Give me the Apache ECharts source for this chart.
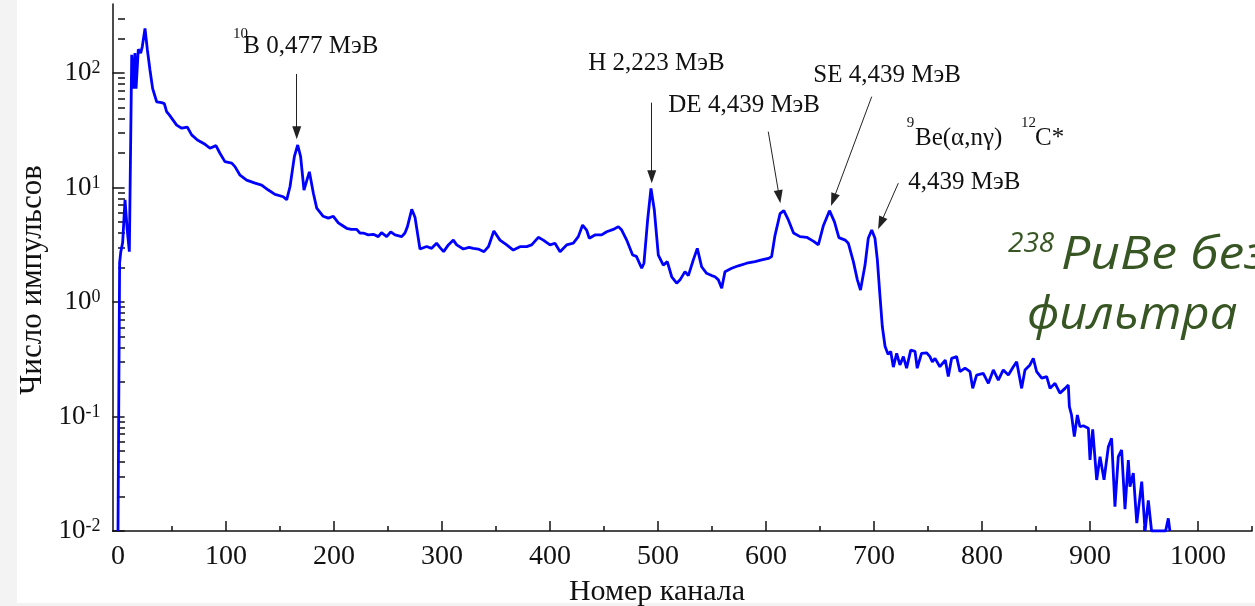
<!DOCTYPE html>
<html><head><meta charset="utf-8">
<script src="https://cdn.jsdelivr.net/npm/echarts@6/dist/echarts.min.js"></script>
<style>html,body{margin:0;padding:0;background:#fff}#c{width:1255px;height:606px}</style>
</head><body><div id="c"></div>
<script>
// Channel numbers (x) and counts (y)
const channels = [0,1.5,2.5,4.3,6.5,8.5,10.5,12.7,14.2,15.7,16.7,18.8,21,22.5,25,27.2,29.6,32.1,35.8,40.4,42.9,45,47.5,54.3,59,64.2,68.2,73.5,80.6,85.2,90.7,94.4,99,105.3,108.3,113,119.1,126.9,133,139.2,145.4,153,156.2,159.3,163.3,166.4,169.1,172.2,177.2,180.9,184,190,194.7,199.4,204,207,211.7,216,221,224,227,231.8,236.4,241,244,248.8,252.5,256.5,262.7,265.7,268,272,275,279.6,285.8,290.4,295,298,301.5,305.9,310.5,313.6,319.7,325,329,333.6,338.9,343,348,353.7,359.9,366,372.2,378.4,383,389.2,393.8,400,404.6,409.3,415.4,421.6,426.2,430.2,433.9,436.4,441.6,447.8,452.5,458.6,463.3,466.4,471,476.5,480,484.9,487,490.4,493.5,496.6,500.3,504.9,508.6,512.7,517.3,520.4,525,528.1,532.7,536.4,540.4,545,549.7,552.8,555.9,559,562,568.2,574.4,582.1,589.8,596,602.2,605.2,608.3,613,616.5,620.7,625.5,631.5,637.7,643.8,648.5,653,658.8,663.4,667.5,673.3,676.2,680.9,684.6,687.5,691.7,694.7,697.9,700.9,703.1,705.6,707.7,710.2,713,715.5,717.9,721,724,727.2,730.2,734,738,740,744,748.8,751.8,754,756.5,761,766,768.8,771.9,776.5,779.6,784.3,788.9,791.4,795,801.2,805.9,810.5,815.1,819.7,824.4,829,832.1,836.7,839.8,844.4,847.5,850.6,855.3,859.9,863,867.6,872.2,876.9,879.9,880.9,882.9,885.5,888.3,890.7,893.8,898.5,900,902.5,906.2,909.3,913,917,920,923.1,926.2,929.3,932.4,935.5,937,940.1,943.3,947.9,951,954,957,970,972.5,974];
const counts = [0.01,2.2,2.7,3.3,7.8,4.3,2.75,144,73,149,73,161,149,170,245,159,106,73,56,55,54,46,43,35,32.9,33.6,28.8,26,23.8,22,23.2,19.9,16.8,16.3,15.2,12.8,11.6,10.9,10.5,9.5,8.7,8.3,7.8,10.2,18.6,23.5,18.6,9.5,13.7,8.9,6.6,5.6,5.4,5.6,4.9,4.7,4.4,4.3,4.3,4.0,4.0,3.85,3.9,3.72,4.03,3.72,4.1,3.85,3.72,4.0,4.55,6.45,5.5,2.9,3.05,2.94,3.26,3.0,2.75,3.15,3.47,3.15,2.9,3.0,2.94,2.9,2.75,3.04,4.17,3.47,3.15,2.84,3.04,3.04,3.15,3.67,3.47,3.15,3.26,2.75,3.15,3.26,3.72,4.7,4.25,3.6,3.85,3.85,4.1,4.3,4.55,4.25,3.47,2.57,2.5,1.97,2.18,5.2,9.8,6.35,2.57,2.1,2.25,1.66,1.46,1.56,1.84,1.7,2.33,2.94,2.03,1.78,1.7,1.66,1.56,1.32,1.84,1.97,2.07,2.18,2.25,2.33,2.4,2.49,3.8,5.9,6.27,5.2,4.0,3.72,3.67,3.4,3.16,4.6,6.27,5.0,3.65,3.47,3.26,2.25,1.56,1.27,2.1,3.6,4.25,3.6,2.33,1.11,0.61,0.41,0.35,0.37,0.27,0.356,0.282,0.333,0.264,0.38,0.37,0.264,0.356,0.36,0.333,0.30,0.322,0.272,0.311,0.223,0.322,0.333,0.246,0.264,0.246,0.176,0.23,0.238,0.195,0.255,0.208,0.255,0.23,0.272,0.301,0.176,0.255,0.282,0.322,0.246,0.216,0.223,0.176,0.195,0.16,0.176,0.188,0.122,0.103,0.0667,0.103,0.0814,0.083,0.079,0.0417,0.077,0.0279,0.0446,0.028,0.0545,0.0646,0.0163,0.0446,0.051,0.0155,0.0417,0.0244,0.032,0.0117,0.027,0.01,0.0185,0.01,0.01,0.0129,0.01];

// Axis tick values
const xMajorTicks = [0,100,200,300,400,500,600,700,800,900,1000];
const xMinorTicks = [50,150,250,350,450,550,650,750,850,950,1050];
const yMajorTicks = [0.01,0.1,1,10,100];
const yMinorTicks = [0.02,0.03,0.04,0.05,0.06,0.07,0.08,0.09,0.2,0.3,0.4,0.5,0.6,0.7,0.8,0.9,2,3,4,5,6,7,8,9,20,30,40,50,60,70,80,90,200,300];

// Annotation arrows: [channel, count] start -> end (data units)
const arrowStarts = [[165.5,98],[494.2,55],[602.1,30.7],[697.9,62.1],[722.5,10.9]];
const arrowEnds   = [[165.5,30],[494.2,12.4],[612.3,8.3],[662.3,7.8],[706.2,4.87]];

const serif = 'Liberation Serif';
const chart = echarts.init(document.getElementById('c'), null, {renderer:'canvas'});

function txt(x, y, s, size, extra) {
  return Object.assign({type:'text', x:x, y:y, z:50,
    style:{text:s, font: (size)+'px "'+serif+'"', fill:'#111', textAlign:'left', textVerticalAlign:'middle'}}, extra||{});
}

const graphics = [
  {type:'rect', shape:{x:0,y:0,width:17,height:606}, style:{fill:'#f3f3f3'}, z:-100, silent:true},
  {type:'rect', shape:{x:0,y:603,width:1255,height:3}, style:{fill:'#f3f3f3'}, z:-100, silent:true},
  txt(233, 34.5, '10', 15),
  txt(243.3, 46.3, 'B 0,477 MэB', 25),
  txt(588.3, 63.8, 'H 2,223 MэB', 25),
  txt(668.3, 105.8, 'DE 4,439 MэB', 25),
  txt(813.3, 75.8, 'SE 4,439 MэB', 25),
  txt(906.7, 123.5, '9', 15),
  txt(915, 138.3, 'Be(α,nγ)', 25),
  txt(1021, 123.5, '12', 15),
  txt(1035, 138.3, 'C*', 25),
  txt(908.3, 182, '4,439 MэB', 25),
  {type:'text', x:657, y:591.7, z:50, style:{text:'Номер канала', font:'30px "'+serif+'"', fill:'#111', textAlign:'center', textVerticalAlign:'middle'}},
  {type:'text', x:33, y:280, rotation:Math.PI/2, z:50, style:{text:'Число импульсов', font:'31px "'+serif+'"', fill:'#111', textAlign:'center', textVerticalAlign:'middle'}},
  {type:'text', x:1008, y:244, z:50, style:{text:'238', font:'italic 28px "Open Sans"', fill:'#375623', textAlign:'left', textVerticalAlign:'middle'}},
  {type:'text', x:1061, y:256, scaleX:1.15, z:50, style:{text:'PuBe без', font:'italic 45px "Open Sans"', fill:'#375623', textAlign:'left', textVerticalAlign:'middle'}},
  {type:'text', x:1027, y:316, scaleX:1.06, z:50, style:{text:'фильтра', font:'italic 46px "Open Sans"', fill:'#375623', textAlign:'left', textVerticalAlign:'middle'}}
];

const axisLineStyle = {color:'#111', width:1.5};
const option = {
  animation:false,
  backgroundColor:'#ffffff',
  grid:{left:112.6, right:3, top:4, bottom:75, containLabel:false, outerBoundsMode:'none'},
  xAxis:[
    {type:'value', min:-5, max:1050, splitLine:{show:false},
     axisLine:{show:true, onZero:false, lineStyle:axisLineStyle},
     axisTick:{show:true, inside:true, length:10, customValues:xMajorTicks, lineStyle:axisLineStyle},
     axisLabel:{customValues:xMajorTicks, fontFamily:serif, fontSize:28, color:'#111', margin:12,
       formatter:function(v){ return String(v); }}},
    {type:'value', min:-5, max:1050, position:'bottom', splitLine:{show:false},
     axisLine:{show:false},
     axisTick:{show:true, inside:true, length:5, customValues:xMinorTicks, lineStyle:axisLineStyle},
     axisLabel:{show:false}}
  ],
  yAxis:[
    {type:'log', logBase:10, min:0.01, max:400, splitLine:{show:false},
     axisLine:{show:true, onZero:false, lineStyle:axisLineStyle},
     axisTick:{show:true, inside:true, length:12, customValues:yMajorTicks, lineStyle:axisLineStyle},
     axisLabel:{customValues:yMajorTicks, margin:12, color:'#111',
       formatter:function(v){ return '{b|10}{s|' + Math.round(Math.log10(v)) + '}'; },
       rich:{b:{fontFamily:serif, fontSize:27, color:'#111'}, s:{fontFamily:serif, fontSize:18, color:'#111', verticalAlign:'top'}}}},
    {type:'log', logBase:10, min:0.01, max:400, position:'left', offset:0, splitLine:{show:false},
     axisLine:{show:false},
     axisTick:{show:true, inside:true, length:7, customValues:yMinorTicks, lineStyle:axisLineStyle},
     axisLabel:{show:false}}
  ],
  series:[{
    type:'line', xAxisIndex:0, yAxisIndex:0,
    data: channels.map((c,i)=>[c, counts[i]]),
    showSymbol:false, symbol:'none', smooth:false,
    lineStyle:{color:'#0000ff', width:2.8}, itemStyle:{color:'#0000ff'},
    markLine:{silent:true, symbol:['none','triangle'], symbolSize:[9,13], label:{show:false},
      lineStyle:{color:'#222', width:1, type:'solid'},
      data: arrowStarts.map((s,i)=>[{coord:s},{coord:arrowEnds[i]}])}
  }],
  graphic: graphics
};
chart.setOption(option);
</script></body></html>
